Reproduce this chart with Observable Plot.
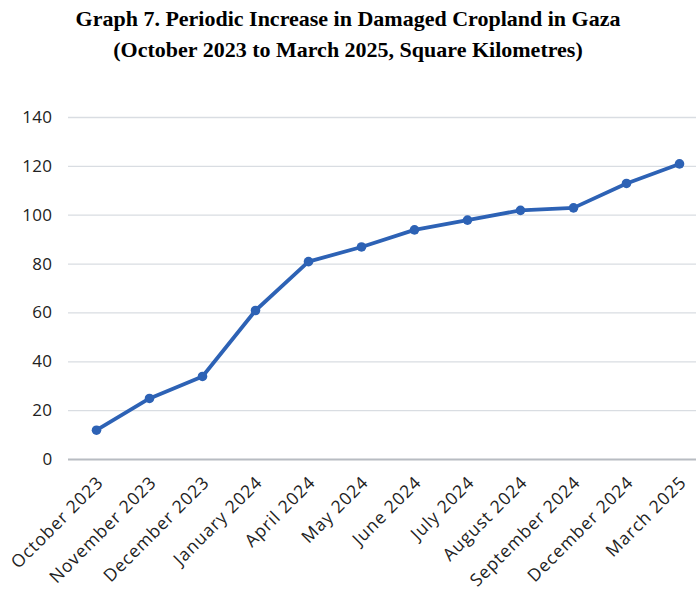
<!DOCTYPE html>
<html>
<head>
<meta charset="utf-8">
<script src="https://cdn.jsdelivr.net/npm/d3@7"></script>
<script src="https://cdn.jsdelivr.net/npm/@observablehq/plot@0.6"></script>
<style>
  html, body { margin: 0; padding: 0; background: #fff; }
  #title { width: 696px; height: 90px; box-sizing: border-box; padding-top: 3px;
    font-family: "Liberation Serif", "Times New Roman", serif; font-weight: bold;
    font-size: 22px; line-height: 31px; text-align: center; color: #000; }
  #chart g[aria-label="x-axis tick label"] text { letter-spacing: 0.9px; }
  #chart g[aria-label="y-axis tick label"] text { letter-spacing: 0.4px; }
</style>
</head>
<body>
<div id="title">Graph 7. Periodic Increase in Damaged Cropland in Gaza<br>(October 2023 to March 2025, Square Kilometres)</div>
<div id="chart"></div>
<script>
const periods = ["October 2023", "November 2023", "December 2023", "January 2024", "April 2024", "May 2024", "June 2024", "July 2024", "August 2024", "September 2024", "December 2024", "March 2025"];
const damagedKm2 = [12, 25, 34, 61, 81, 87, 94, 98, 102, 103, 113, 121];
const yTicks = [0, 20, 40, 60, 80, 100, 120, 140];

const data = periods.map((p, i) => ({period: p, value: damagedKm2[i]}));
const blue = "#2d62b5";

const chart = Plot.plot({
  width: 696,
  height: 502,
  marginTop: 27,
  marginBottom: 133,
  marginLeft: 68,
  marginRight: 0,
  style: {fontFamily: "'Open Sans', 'Noto Sans', sans-serif", fontSize: "17px", color: "#222"},
  x: {type: "point", domain: periods, range: [95, 680], padding: 0, label: null},
  y: {domain: [0, 140], ticks: yTicks, label: null},
  marks: [
    Plot.ruleY(yTicks.filter(t => t > 0), {stroke: "#d9dde2", strokeWidth: 1.3}),
    Plot.ruleY([0], {stroke: "#b8bcc2", strokeWidth: 2}),
    Plot.axisY({ticks: yTicks, tickSize: 0, tickPadding: 16, fontSize: 17, label: null}),
    Plot.axisX({tickSize: 0, tickRotate: -45, tickPadding: 20, dx: 4, fontSize: 17.5, label: null}),
    Plot.line(data, {x: "period", y: "value", stroke: blue, strokeWidth: 3.8}),
    Plot.dot(data, {x: "period", y: "value", fill: blue, r: 4.8})
  ]
});
document.getElementById("chart").appendChild(chart);
</script>
</body>
</html>
